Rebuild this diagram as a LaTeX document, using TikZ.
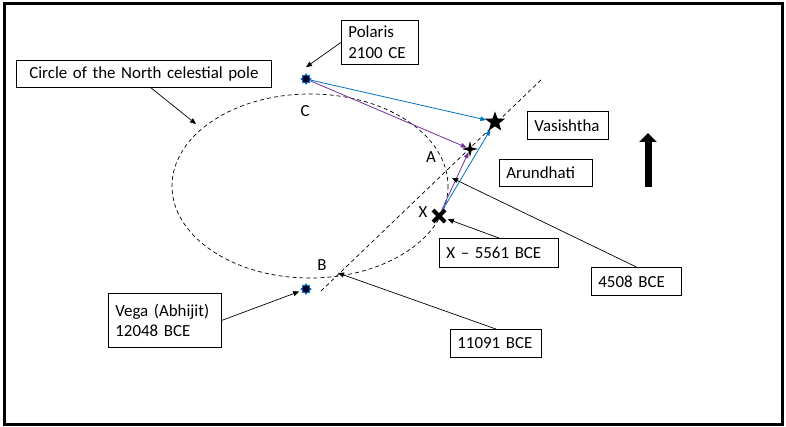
\documentclass[tikz,border=0pt]{standalone}
\usepackage{fontspec}
\setmainfont{Carlito}
\usetikzlibrary{arrows.meta, shapes.geometric, shapes.misc}
\definecolor{pathblue}{RGB}{0,112,192}
\definecolor{pathpurple}{RGB}{112,48,160}

\begin{document}
\begin{tikzpicture}[x=1pt, y=-1pt,
  lbl/.style={draw, line width=0.8pt, anchor=north west, align=left, inner xsep=7pt, inner ysep=0pt, font=\fontsize{16.9}{20.5}\selectfont},
  ptlbl/.style={font=\fontsize{16.9}{20.5}\selectfont},
  callout/.style={-{Triangle[length=6pt,width=5pt]}, line width=0.7pt},
  track/.style={-{Triangle[length=6pt,width=4.5pt]}, line width=0.8pt},
  guide/.style={dash pattern=on 4pt off 3pt, line width=0.7pt},
  bright/.style={star, star points=8, star point ratio=1.4, fill=black!85!blue, draw=cyan!55!blue, line width=1pt, inner sep=0pt, minimum size=10pt}]
\useasboundingbox (0,0) rectangle (786,427);
\draw[line width=3pt] (4,4) rectangle (782,424);
\draw[guide] (310,186) ellipse [x radius=138, y radius=92];
\coordinate (lowend) at (321,291);
\coordinate (highend) at (543,78);
\draw[guide] (lowend) -- (highend);
\node[lbl, align=center, text width=241, minimum height=27] (circbox) at (16,60) {Circle of the North celestial pole};
\node[lbl, text width=63, minimum height=44] (polbox) at (341,20) {Polaris\\2100 CE};
\node[lbl, text width=67, minimum height=28] (vasbox) at (527,111) {Vasishtha};
\node[lbl, text width=79, minimum height=27] (arubox) at (499,159) {Arundhati};
\node[lbl, text width=105, minimum height=29] (xdate) at (439,238) {X – 5561 BCE};
\node[lbl, text width=76, minimum height=28] (adate) at (591,267) {4508 BCE};
\node[lbl, text width=77, minimum height=28] (bdate) at (450,329) {11091 BCE};
\node[lbl, text width=99, minimum height=54] (vegabox) at (108,293) {Vega (Abhijit)\\12048 BCE};
\node[bright] (polaris) at (306,79) {};
\node[bright] (vega) at (306,289) {};
\node[star, star points=5, star point ratio=2.4, fill=black, inner sep=0pt, minimum size=21pt] (vasishtha) at (495,122) {};
\node[star, star points=4, star point ratio=3.5, fill=black, inner sep=0pt, minimum size=16pt] (arundhati) at (470,149) {};
\node[cross out, draw, line width=4pt, inner sep=0pt, minimum size=8pt] (xpt) at (439,216) {};
\node[ptlbl] (clbl) at (305,111) {C};
\node[ptlbl] (albl) at (431,157) {A};
\node[ptlbl] (xlbl) at (423,212) {X};
\node[ptlbl] (blbl) at (322,265) {B};
\coordinate (cpt) at (196,124);
\coordinate (apt) at (452,178);
\coordinate (bpt) at (338,273);
\draw[track, pathblue] (polaris) -- (vasishtha);
\draw[track, pathblue] (xpt) -- (vasishtha);
\draw[track, pathpurple] (polaris) -- (arundhati);
\draw[track, pathpurple] (xpt) -- (arundhati);
\draw[callout] ([xshift=7pt]circbox.south) -- (cpt);
\draw[callout] (polbox.west) -- ([yshift=6pt]polaris.north);
\draw[callout, shorten >=3pt] (vegabox.east) -- (vega);
\draw[callout, shorten >=3pt] (xdate.north) -- (xpt);
\draw[callout] (adate.north) -- (apt);
\draw[callout] (bdate.north) -- (bpt);
\draw[line width=7pt, -{Triangle[length=9pt,width=17pt]}] (648,187) -- (648,133);
\end{tikzpicture}
\end{document}
